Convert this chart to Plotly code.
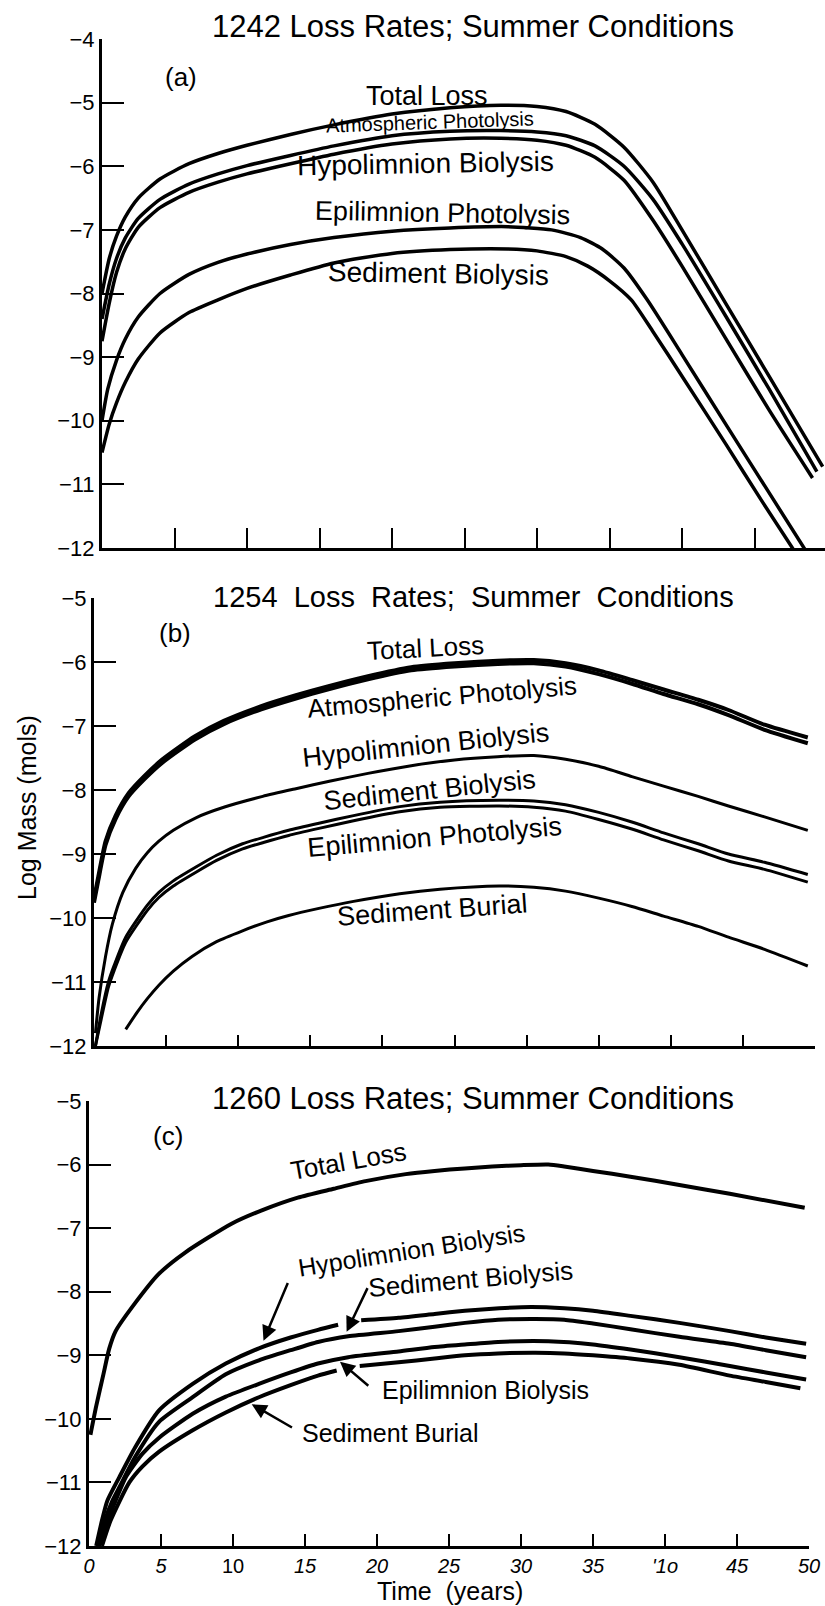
import plotly.graph_objects as go

# ---- panel (a): 1242 ----
a_x = [0, 0.5, 1, 1.6, 2.5, 4, 6, 8, 10, 13, 16, 20, 24, 27.5, 30, 32, 34, 36, 38, 40, 43, 46, 49.7]
a_total = [-8.0, -7.45, -7.1, -6.8, -6.5, -6.2, -5.96, -5.8, -5.67, -5.5, -5.35, -5.18, -5.08, -5.04,
           -5.06, -5.14, -5.34, -5.7, -6.25, -7.0, -8.15, -9.3, -10.72]
a_atm_x = [0, 0.5, 1, 1.6, 2.5, 4, 6, 8, 10, 13, 16, 20, 24, 27.5, 30, 32, 34, 36, 38, 40, 43, 46, 49.3]
a_atm = [-8.4, -7.85, -7.45, -7.13, -6.82, -6.52, -6.28, -6.12, -5.99, -5.83, -5.68, -5.52, -5.45, -5.44,
         -5.46, -5.52, -5.68, -6.0, -6.52, -7.22, -8.35, -9.5, -10.8]
a_hypo_x = [0, 0.5, 1, 1.6, 2.5, 4, 6, 8, 10, 13, 16, 20, 24, 27.5, 30, 32, 34, 36, 38, 40, 43, 46, 49.0]
a_hypo = [-8.75, -8.15, -7.67, -7.3, -6.96, -6.65, -6.41, -6.25, -6.12, -5.96, -5.81, -5.65, -5.57, -5.56,
          -5.59, -5.67, -5.86, -6.22, -6.85, -7.57, -8.7, -9.83, -10.9]
a_epi_x = [0, 0.4, 1, 1.6, 2.5, 4, 6, 8, 10, 13, 16, 20, 24, 28, 31, 33, 34.5, 36, 37.6, 40, 43, 46, 48.5]
a_epi = [-10.0, -9.5, -9.05, -8.72, -8.37, -8.0, -7.7, -7.51, -7.38, -7.23, -7.12, -7.02, -6.97, -6.95,
         -7.0, -7.12, -7.3, -7.6, -8.1, -8.96, -10.05, -11.13, -12.03]
a_sed_x = [0, 0.5, 1, 1.6, 2.5, 4, 6, 8, 10, 13, 16, 20, 24, 28, 30, 32, 33.5, 35, 36.5, 38, 40, 43, 45.5, 47.7]
a_sed = [-10.5, -10.05, -9.72, -9.4, -9.03, -8.62, -8.3, -8.1, -7.92, -7.71, -7.52, -7.37, -7.31, -7.3,
         -7.33, -7.42, -7.57, -7.8, -8.1, -8.6, -9.3, -10.36, -11.26, -12.03]

# ---- panel (b): 1254 ----
b_top_x = [0, 0.3, 0.8, 1.5, 2.4, 3.5, 4.7, 7, 9, 11.6, 14, 16.2, 19, 22, 25, 28, 30.5, 32.7, 35, 37.3,
           39.5, 41.9, 44, 46.5, 49.5]
b_total = [-9.7, -9.35, -8.8, -8.4, -8.05, -7.78, -7.53, -7.16, -6.92, -6.69, -6.52, -6.38, -6.22, -6.08,
           -6.02, -5.98, -5.97, -6.02, -6.13, -6.28, -6.43, -6.59, -6.75, -6.98, -7.18]
b_atm = [-9.76, -9.41, -8.86, -8.45, -8.1, -7.83, -7.58, -7.21, -6.97, -6.74, -6.57, -6.43, -6.27, -6.13,
         -6.07, -6.03, -6.02, -6.07, -6.19, -6.34, -6.5, -6.66, -6.83, -7.06, -7.27]
b_hypo_x = [0.1, 0.35, 0.8, 1.27, 2, 2.9, 3.7, 4.5, 5.5, 7.1, 9, 11.7, 14, 16.4, 19, 22, 25, 28, 30.5,
            32.7, 35, 37.3, 39.5, 41.9, 44, 46.5, 49.5]
b_hypo = [-11.8, -11.25, -10.6, -10.1, -9.6, -9.22, -8.98, -8.8, -8.63, -8.43, -8.27, -8.1, -7.98, -7.86,
          -7.74, -7.62, -7.53, -7.48, -7.46, -7.52, -7.63, -7.79, -7.94, -8.1, -8.25, -8.42, -8.63]
b_pair_x = [0.1, 0.5, 1, 1.4, 2.2, 3.7, 4.5, 5.5, 7.1, 8.5, 10.3, 11.75, 13.5, 15.6, 18, 21.2, 24, 28.1,
            30.5, 32.7, 35, 37.3, 39.5, 41.9, 44, 46.5, 49.5]
b_sed = [-12, -11.5, -11.0, -10.74, -10.3, -9.8, -9.6, -9.42, -9.2, -9.02, -8.84, -8.74, -8.63, -8.52,
         -8.4, -8.26, -8.19, -8.16, -8.17, -8.23, -8.35, -8.5, -8.67, -8.84, -9.0, -9.13, -9.32]
b_epi = [-12, -11.58, -11.08, -10.82, -10.38, -9.88, -9.68, -9.5, -9.28, -9.1, -8.92, -8.82, -8.71, -8.6,
         -8.48, -8.34, -8.27, -8.25, -8.27, -8.33, -8.46, -8.61, -8.78, -8.95, -9.11, -9.24, -9.44]
b_bur_x = [2.2, 3, 3.7, 4.5, 5.5, 6.8, 8.5, 10.3, 12, 13.5, 15.6, 18, 21.2, 24, 28.1, 30.5, 32.7, 35,
           37.3, 39.5, 41.9, 44, 46.5, 49.5]
b_bur = [-11.74, -11.47, -11.26, -11.05, -10.83, -10.6, -10.37, -10.2, -10.06, -9.96, -9.85, -9.74, -9.62,
         -9.55, -9.5, -9.52, -9.58, -9.69, -9.82, -9.97, -10.13, -10.3, -10.49, -10.75]

# ---- panel (c): 1260 ----
c_tot_x = [0.1, 0.5, 1.0, 1.4, 1.85, 3.2, 4.85, 6.7, 9.9, 12, 14.5, 17, 19.2, 22, 24, 26.1, 28, 30,
           31.9, 33, 35, 37.6, 41, 44.5, 49.7]
c_total = [-10.25, -9.8, -9.3, -8.9, -8.62, -8.18, -7.72, -7.38, -6.93, -6.72, -6.52, -6.38, -6.26,
           -6.15, -6.1, -6.06, -6.03, -6.01, -6.0, -6.03, -6.1, -6.19, -6.32, -6.46, -6.68]
c_hypo_x = [0.5, 0.9, 1.27, 2.1, 3.2, 4.85, 7.2, 9.5, 11.8, 14, 15.9, 17.3, 18.1, 18.9, 21.5, 24, 26.1,
            28.5, 30.7, 33, 35, 37.6, 41, 44.5, 47, 49.8]
c_hypo = [-12, -11.6, -11.29, -10.92, -10.45, -9.87, -9.45, -9.13, -8.89, -8.72, -8.6, -8.52, None,
          -8.45, -8.41, -8.35, -8.3, -8.26, -8.24, -8.26, -8.3, -8.38, -8.49, -8.62, -8.72, -8.82]
c_sed_x = [0.6, 1.1, 1.6, 2.1, 3.2, 4.85, 7.2, 9.5, 11.8, 14, 15.9, 18, 21.5, 24, 26.1, 28.4, 31, 33,
           35, 37.6, 41, 44.5, 47, 49.8]
c_sed = [-12, -11.6, -11.3, -11.08, -10.6, -10.05, -9.66, -9.3, -9.08, -8.92, -8.79, -8.7, -8.62, -8.55,
         -8.49, -8.44, -8.43, -8.44, -8.5, -8.59, -8.71, -8.82, -8.92, -9.03]
c_epi_x = [0.7, 1.3, 2.0, 2.6, 3.7, 4.85, 7.2, 9.5, 11.8, 14, 15.9, 18, 21.5, 24, 26.1, 28.4, 31.9, 35,
           37.6, 41, 44.5, 47, 49.8]
c_epi = [-12, -11.6, -11.2, -10.9, -10.55, -10.3, -9.92, -9.65, -9.45, -9.27, -9.13, -9.03, -8.94,
         -8.87, -8.83, -8.79, -8.78, -8.83, -8.91, -9.03, -9.17, -9.27, -9.38]
c_bur_x = [0.9, 1.5, 2.8, 3.7, 4.85, 7.2, 9.5, 11.8, 14, 15.9, 17.2, 18.0, 18.8, 21.5, 24, 26.1, 28.4,
           31, 33, 35, 37.6, 41, 44.5, 47, 49.4]
c_bur = [-12, -11.6, -11.0, -10.75, -10.52, -10.18, -9.9, -9.66, -9.47, -9.32, -9.24, None, -9.17,
         -9.11, -9.05, -9.0, -8.97, -8.96, -8.97, -9.0, -9.05, -9.15, -9.32, -9.42, -9.52]

x_ticks = [0, 5, 10, 15, 20, 25, 30, 35, 40, 45, 50]
x_tick_text = ["<i>0</i>", "<i>5</i>", "10", "<i>15</i>", "<i>20</i>", "<i>25</i>", "<i>30</i>",
               "<i>35</i>", "<i>'1o</i>", "<i>45</i>", "<i>50</i>"]
titles = ["1242 Loss Rates; Summer Conditions", "1254  Loss  Rates;  Summer  Conditions",
          "1260 Loss Rates; Summer Conditions"]

FONT = "Liberation Sans, Arial, sans-serif"
W, H = 825, 1606


def px(v):
    return v / W


def py(v):
    return 1 - v / H


fig = go.Figure()


def curve(xs, ys, ax, width=3.5):
    fig.add_trace(go.Scatter(x=xs, y=ys, mode="lines", xaxis=ax[0], yaxis=ax[1],
                             line=dict(color="black", width=width, shape="spline", smoothing=0.6),
                             connectgaps=False, showlegend=False, hoverinfo="skip"))


A, B, C = ("x", "y"), ("x2", "y2"), ("x3", "y3")
curve(a_x, a_total, A)
curve(a_atm_x, a_atm, A)
curve(a_hypo_x, a_hypo, A)
curve(a_epi_x, a_epi, A)
curve(a_sed_x, a_sed, A)

curve(b_top_x, b_total, B, 4)
curve(b_top_x, b_atm, B, 4)
curve(b_hypo_x, b_hypo, B, 3)
curve(b_pair_x, b_sed, B, 3)
curve(b_pair_x, b_epi, B, 3)
curve(b_bur_x, b_bur, B, 3)

curve(c_tot_x, c_total, C, 4)
curve(c_hypo_x, c_hypo, C, 4)
curve(c_sed_x, c_sed, C, 4)
curve(c_epi_x, c_epi, C, 4)
curve(c_bur_x, c_bur, C, 4)


def yaxis(dom, top, anchor):
    vals = list(range(-12, top + 1))
    return dict(domain=dom, range=[-12, top], anchor=anchor, showline=True, linecolor="black",
                linewidth=3, ticks="inside", ticklen=22, tickwidth=2, tickcolor="black",
                tickvals=vals, ticktext=["\u2212" + str(-v) for v in vals],
                tickfont=dict(family=FONT, size=22, color="black"),
                showgrid=False, zeroline=False, automargin=False)


def xaxis(dom, rng, anchor, ticklen, labels=False):
    d = dict(domain=dom, range=rng, anchor=anchor, showline=True, linecolor="black", linewidth=3,
             ticks="inside", ticklen=ticklen, tickwidth=1.5, tickcolor="black",
             tickvals=x_ticks[1:], showticklabels=labels, showgrid=False, zeroline=False,
             automargin=False)
    if labels:
        d.update(tickvals=x_ticks, ticktext=x_tick_text,
                 tickfont=dict(family="Liberation Sans Narrow, " + FONT, size=20, color="black"))
    return d


fig.update_layout(
    width=W, height=H, margin=dict(l=0, r=0, t=0, b=0),
    paper_bgcolor="white", plot_bgcolor="white",
    xaxis=xaxis([px(102), 1], [0, 49.86], "y", 20),
    yaxis=yaxis([py(548), py(39)], -4, "x"),
    xaxis2=xaxis([px(94), px(815)], [0, 50], "y2", 11),
    yaxis2=yaxis([py(1046), py(598)], -5, "x2"),
    xaxis3=xaxis([px(89), px(809)], [0, 50], "y3", 12, labels=True),
    yaxis3=yaxis([py(1546), py(1101)], -5, "x3"),
)

ann = []


def label(text, x, y, ax, size=27, angle=0):
    ann.append(dict(text=text, x=x, y=y, xref=ax[0], yref=ax[1], showarrow=False, textangle=angle,
                    font=dict(family=FONT, size=size, color="black"), xanchor="center", yanchor="middle"))


# titles
for t, ty, size in zip(titles, [27, 597, 1098], [31, 29, 31]):
    ann.append(dict(text=t, x=px(473), y=py(ty), xref="paper", yref="paper", showarrow=False,
                    font=dict(family=FONT, size=size, color="black"), xanchor="center", yanchor="middle"))

label("(a)", 5.45, -4.6, A, 26)
label("Total Loss", 22.4, -4.9, A, 27)
label("Atmospheric Photolysis", 22.6, -5.3, A, 20, -2)
label("Hypolimnion Biolysis", 22.3, -5.95, A, 28, -1)
label("Epilimnion Photolysis", 23.5, -6.74, A, 27, 1)
label("Sediment Biolysis", 23.2, -7.68, A, 28, 1)

label("(b)", 5.6, -5.55, B, 26)
label("Total Loss", 22.96, -5.78, B, 26, -3)
label("Atmospheric Photolysis", 24.1, -6.55, B, 26, -5)
label("Hypolimnion Biolysis", 23.0, -7.3, B, 27, -6)
label("Sediment Biolysis", 23.3, -8.0, B, 27, -6)
label("Epilimnion Photolysis", 23.6, -8.74, B, 27, -5)
label("Sediment Burial", 23.5, -9.88, B, 27, -4)

label("(c)", 5.5, -5.55, C, 26)
label("Total Loss", 18.0, -5.95, C, 26, -10)
label("Hypolimnion Biolysis", 22.4, -7.35, C, 25, -9)
label("Sediment Biolysis", 26.5, -7.8, C, 26, -5)
label("Epilimnion Biolysis", 27.5, -9.55, C, 25, 0)
label("Sediment Burial", 20.9, -10.22, C, 25, 0)

# arrows in panel (c): (head x, head y, tail x, tail y)
arrows = [(12.12, -8.77, 13.85, -7.84), (17.89, -8.63, 19.39, -7.92),
          (17.43, -9.1, 19.5, -9.5), (11.3, -9.77, 14.2, -10.15)]
for hx, hy, tx, ty in arrows:
    ann.append(dict(x=hx, y=hy, ax=tx, ay=ty, xref="x3", yref="y3", axref="x3", ayref="y3", text="",
                    showarrow=True, arrowhead=2, arrowsize=1.2, arrowwidth=2.5, arrowcolor="black"))

ann.append(dict(text="Log Mass (mols)", x=px(27), y=py(808), xref="paper", yref="paper",
                xanchor="center", yanchor="middle",
                showarrow=False, textangle=-90, font=dict(family=FONT, size=25, color="black")))
ann.append(dict(text="Time  (years)", x=px(450), y=py(1591), xref="paper", yref="paper",
                xanchor="center", yanchor="middle",
                showarrow=False, font=dict(family=FONT, size=25, color="black")))

fig.update_layout(annotations=ann)
# drop the default 8px page margin so the 825x1606 figure fills the window exactly
fig.write_html("out.html", config={"displayModeBar": False},
               post_script="document.body.style.margin='0';")
